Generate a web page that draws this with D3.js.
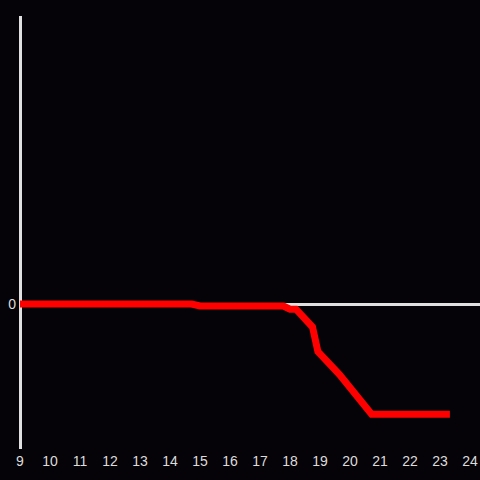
<!DOCTYPE html>
<html><head><meta charset="utf-8">
<script src="https://cdn.jsdelivr.net/npm/d3@7"></script>
<style>html,body{margin:0;padding:0;background:#050307;}</style>
</head><body>
<script>
const xTicks = [9,10,11,12,13,14,15,16,17,18,19,20,21,22,23,24];
const yTicks = [0];
const xs = [9, 14.72, 15.0, 17.78, 18.0, 18.2, 18.75, 18.93, 19.65, 20.72, 23.33];
const ys = [0, 0, -0.014, -0.014, -0.036, -0.036, -0.16, -0.33, -0.49, -0.765, -0.765];

const W = 480, H = 480;
const svg = d3.select("body").append("svg").attr("width", W).attr("height", H)
  .style("background", "#050307");
const x = d3.scaleLinear().domain([9, 24]).range([20, 470]);
const y = d3.scaleLinear().domain([-1, 2]).range([448, 16]);

// y axis line
svg.append("line").attr("x1", 20.5).attr("x2", 20.5).attr("y1", 16).attr("y2", 449)
  .attr("stroke", "#e0e0e0").attr("stroke-width", 3);
// zero line
svg.append("line").attr("x1", 20).attr("x2", 480).attr("y1", y(0) + 0.5).attr("y2", y(0) + 0.5)
  .attr("stroke", "#e0e0e0").attr("stroke-width", 3);

svg.selectAll(".xt").data(xTicks).enter().append("text")
  .attr("x", d => x(d)).attr("y", 466)
  .attr("text-anchor", "middle")
  .attr("fill", "#dcdcdc").attr("font-family", "Liberation Sans, Arial, sans-serif")
  .attr("font-size", 14).text(d => d);

svg.selectAll(".yt").data(yTicks).enter().append("text")
  .attr("x", 16).attr("y", d => y(d) + 5)
  .attr("text-anchor", "end")
  .attr("fill", "#dcdcdc").attr("font-family", "Liberation Sans, Arial, sans-serif")
  .attr("font-size", 14).text(d => d);

const pts = xs.map((v, i) => [v, ys[i]]);
svg.append("path").datum(pts)
  .attr("d", d3.line().x(d => x(d[0])).y(d => y(d[1])))
  .attr("fill", "none").attr("stroke", "#ff0000").attr("stroke-width", 7)
  .attr("stroke-linejoin", "miter").attr("stroke-linecap", "butt");
</script>
</body></html>
